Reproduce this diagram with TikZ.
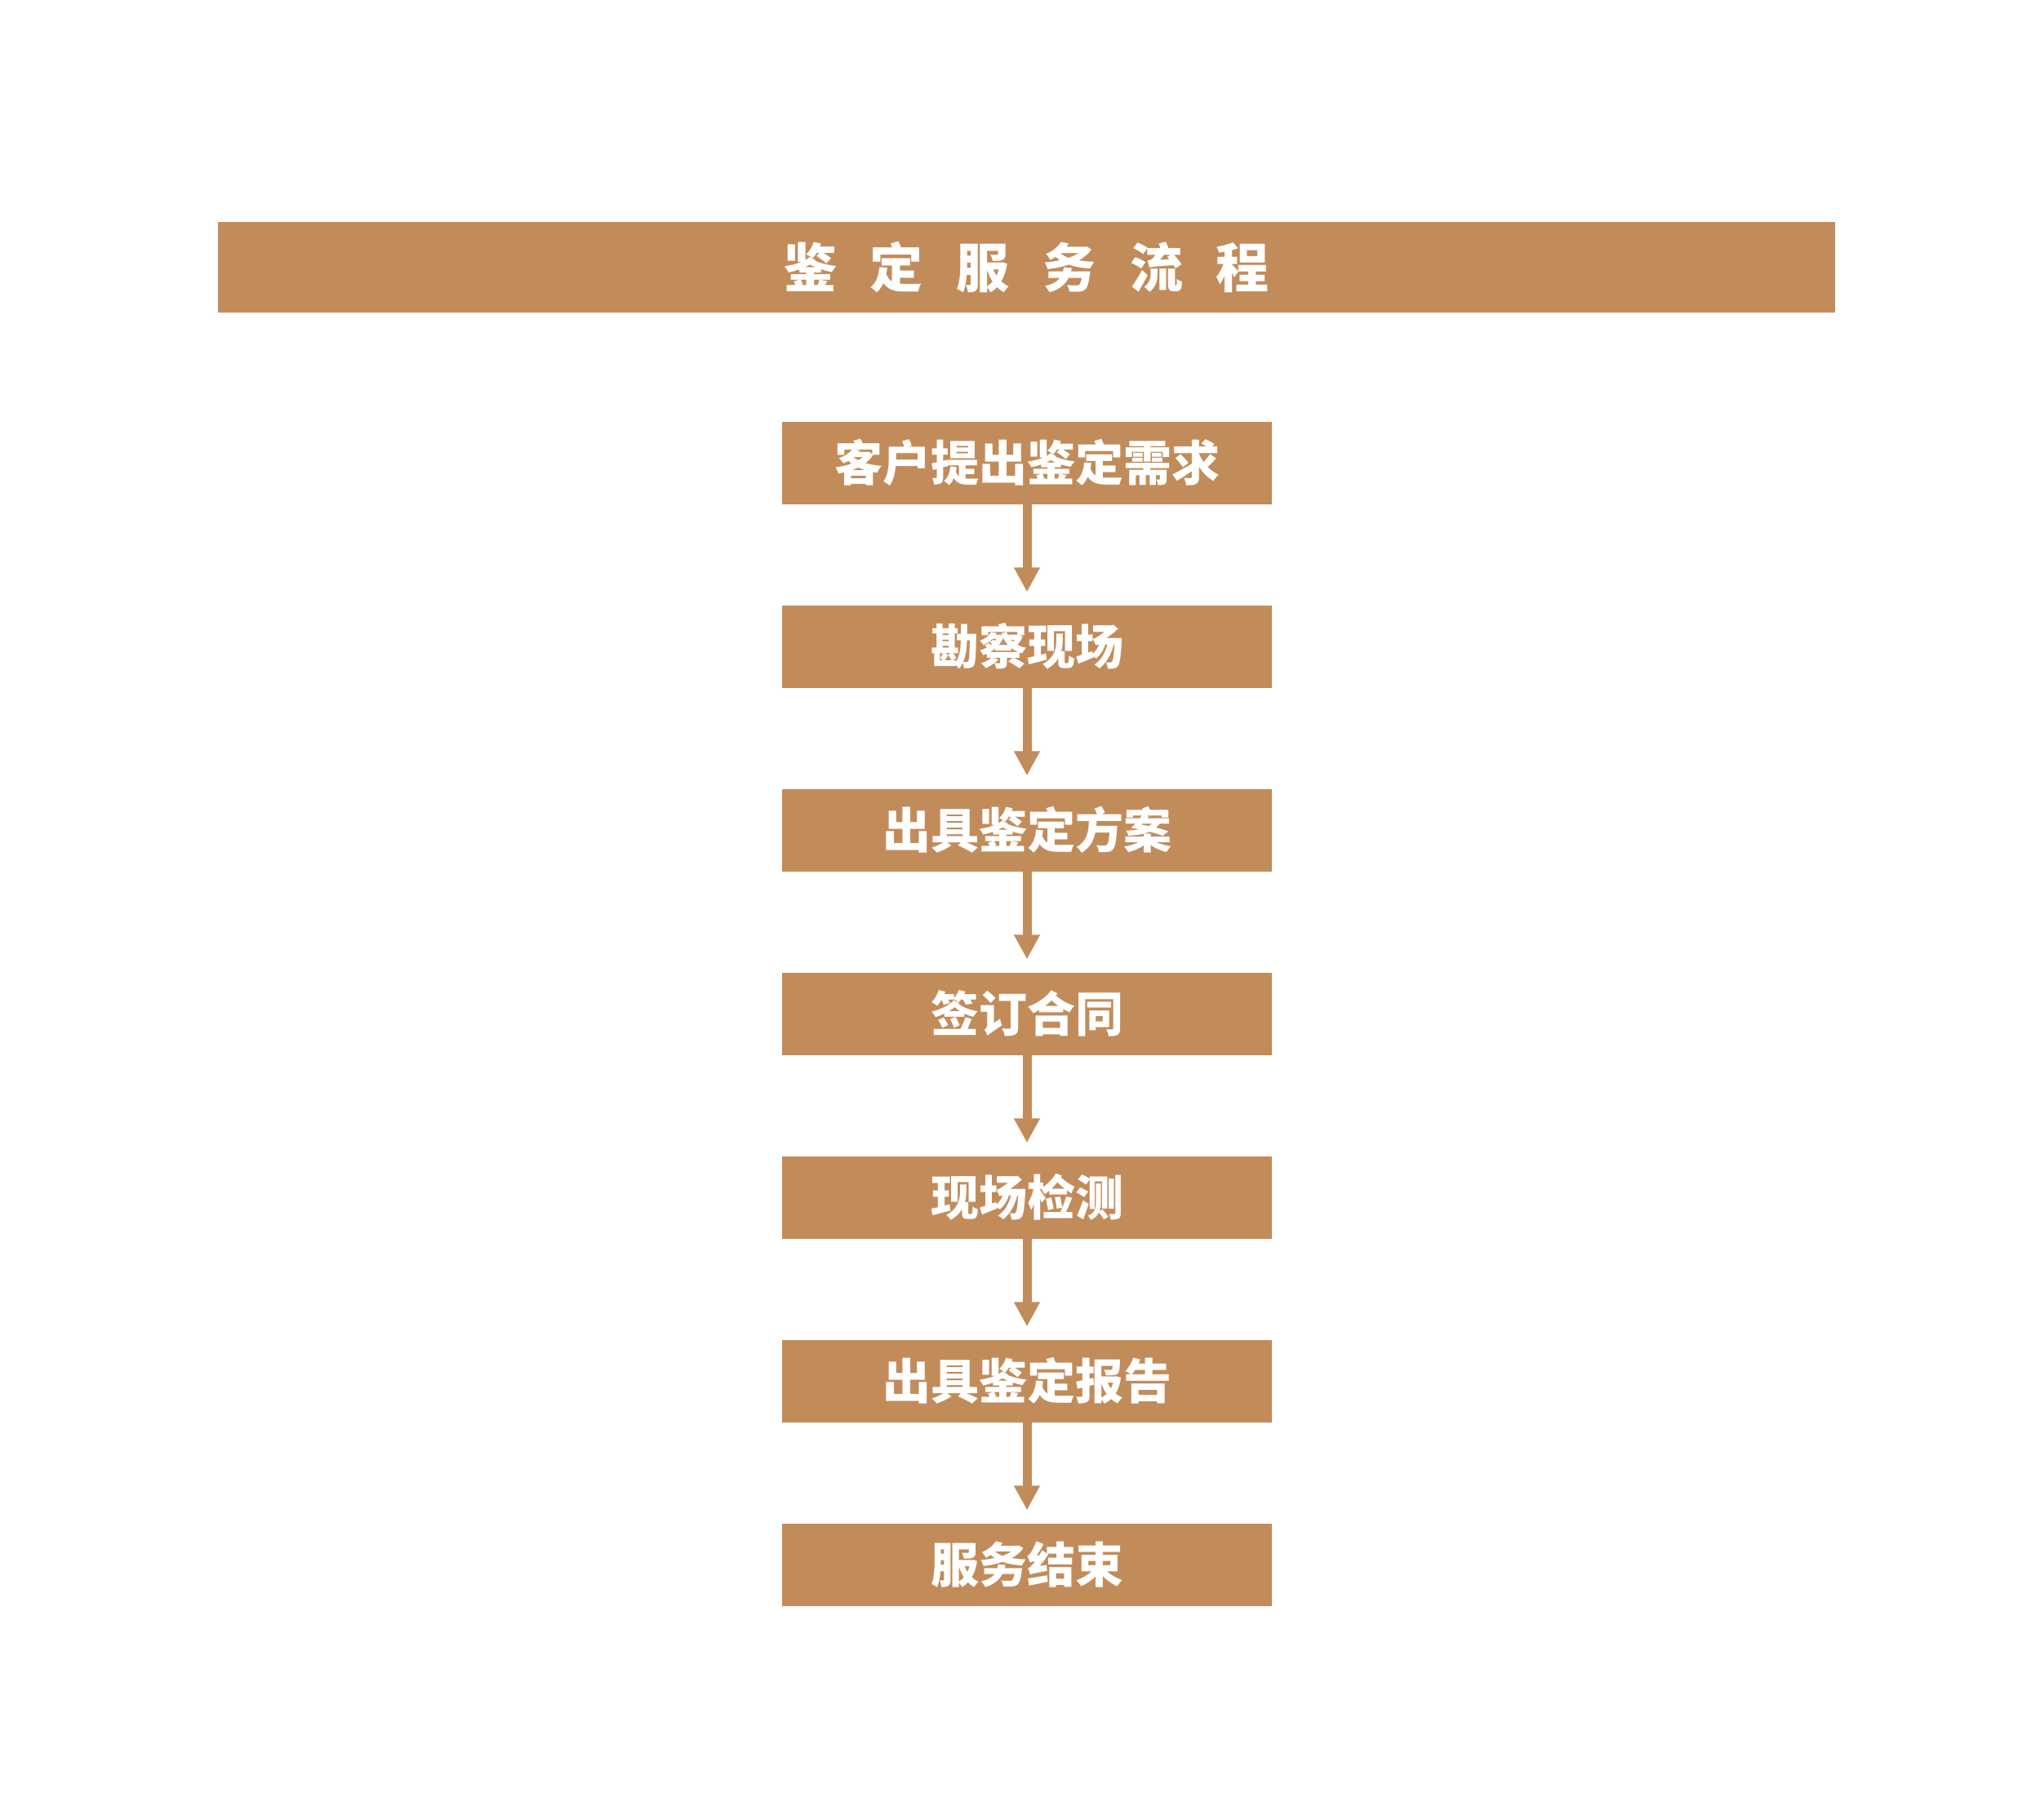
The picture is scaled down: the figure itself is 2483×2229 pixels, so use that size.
\documentclass[tikz,border=0pt]{standalone}
\usepackage{fontspec}
\newfontfamily\cjk{Noto Sans CJK SC Black}
\usetikzlibrary{arrows.meta}
\definecolor{tan}{RGB}{194,140,90}
\tikzset{
  stepbox/.style={fill=tan, draw=none, minimum width=600pt, minimum height=101pt, inner sep=0pt,
    text=white, font=\cjk\fontsize{59pt}{59pt}\selectfont},
  flow/.style={draw=tan, line width=11pt, -{Triangle[length=30pt,width=30pt]}, shorten >=16pt}
}
\newcommand{\lowered}[1]{\raisebox{-3pt}{#1}}
\begin{document}
\begin{tikzpicture}[x=1pt,y=-1pt]
\useasboundingbox[fill=white] (0,0) rectangle (2483,2229);
\node[fill=tan, minimum width=1981pt, minimum height=111pt, inner sep=0pt, text=white,
  font=\cjk\fontsize{65pt}{65pt}\selectfont] (title) at (1257.5,327.5)
  {鉴\hspace{41pt}定\hspace{41pt}服\hspace{41pt}务\hspace{41pt}流\hspace{41pt}程};
\node[stepbox] (b1) at (1258,567) {\lowered{客户提出鉴定需求}};
\node[stepbox] (b2) at (1258,792) {\lowered{勘察现场}};
\node[stepbox] (b3) at (1258,1017) {\lowered{出具鉴定方案}};
\node[stepbox] (b4) at (1258,1242) {\lowered{签订合同}};
\node[stepbox] (b5) at (1258,1467) {\lowered{现场检测}};
\node[stepbox] (b6) at (1258,1692) {\lowered{出具鉴定报告}};
\node[stepbox] (b7) at (1258,1917) {\lowered{服务结束}};
\foreach \a/\b in {b1/b2,b2/b3,b3/b4,b4/b5,b5/b6,b6/b7}
  \draw[flow] (\a.south) -- (\b.north);
\end{tikzpicture}
\end{document}
